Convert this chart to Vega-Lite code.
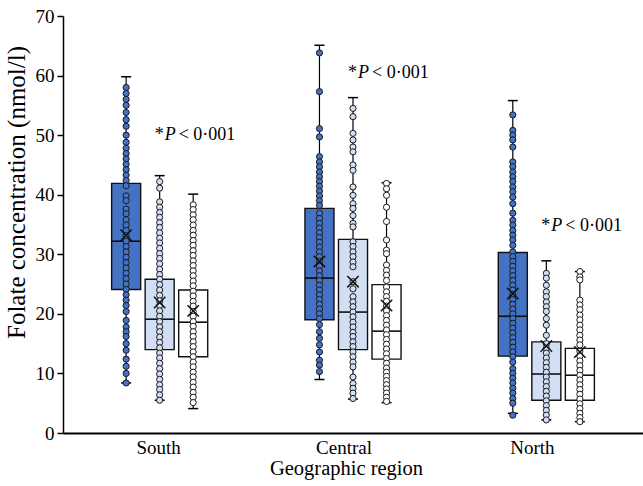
{
  "$schema": "https://vega.github.io/schema/vega-lite/v6.json",
  "width": 580,
  "height": 417,
  "autosize": {"type": "none"},
  "padding": {"left": 63, "top": 16, "right": 0, "bottom": 53},
  "config": {
    "view": {"stroke": null},
    "font": "Liberation Serif",
    "axis": {"domainColor": "#000", "tickColor": "#000", "labelColor": "#000", "titleColor": "#000", "labelFont": "Liberation Serif", "titleFont": "Liberation Serif", "labelFontSize": 19, "titleFontSize": 20.5, "titleFontWeight": "normal", "grid": false},
    "axisY": {"tickSize": 6, "labelPadding": 3, "domainWidth": 1.5, "tickWidth": 1.5, "titlePadding": 6, "titleFontSize": 25, "titleY": 176},
    "axisX": {"ticks": false, "tickSize": 0, "labelPadding": 5, "titlePadding": 1, "domainWidth": 2, "labelAngle": 0, "titleX": 283}
  },
  "datasets": {
    "stats": [
      {"r": "South", "g": "1", "lo": 8.4, "q1": 24.1, "med": 32.2, "q3": 41.9, "hi": 59.8, "mean": 33.2},
      {"r": "South", "g": "2", "lo": 5.5, "q1": 14.0, "med": 19.1, "q3": 25.8, "hi": 43.2, "mean": 21.9},
      {"r": "South", "g": "3", "lo": 4.1, "q1": 12.8, "med": 18.6, "q3": 24.0, "hi": 40.1, "mean": 20.5},
      {"r": "Central", "g": "1", "lo": 9.0, "q1": 19.0, "med": 26.0, "q3": 37.7, "hi": 65.1, "mean": 28.8},
      {"r": "Central", "g": "2", "lo": 5.7, "q1": 14.0, "med": 20.3, "q3": 32.5, "hi": 56.3, "mean": 25.4},
      {"r": "Central", "g": "3", "lo": 5.1, "q1": 12.4, "med": 17.1, "q3": 24.9, "hi": 42.0, "mean": 21.4},
      {"r": "North", "g": "1", "lo": 3.3, "q1": 12.9, "med": 19.6, "q3": 30.3, "hi": 55.8, "mean": 23.4},
      {"r": "North", "g": "2", "lo": 2.2, "q1": 5.5, "med": 9.9, "q3": 15.3, "hi": 28.9, "mean": 14.6},
      {"r": "North", "g": "3", "lo": 1.9, "q1": 5.5, "med": 9.7, "q3": 14.2, "hi": 27.1, "mean": 13.6}
    ],
    "ann": [
      {"r": "South", "y": 50.0},
      {"r": "Central", "y": 60.4},
      {"r": "North", "y": 34.7}
    ],
    "pts": [
      {"r":"South","g":"1","v":58.0},{"r":"South","g":"1","v":57.0},{"r":"South","g":"1","v":56.0},{"r":"South","g":"1","v":55.0},{"r":"South","g":"1","v":53.8},{"r":"South","g":"1","v":52.6},{"r":"South","g":"1","v":51.5},{"r":"South","g":"1","v":50.0},{"r":"South","g":"1","v":48.8},{"r":"South","g":"1","v":47.8},{"r":"South","g":"1","v":46.9},{"r":"South","g":"1","v":46.0},{"r":"South","g":"1","v":45.1},{"r":"South","g":"1","v":44.2},{"r":"South","g":"1","v":43.3},{"r":"South","g":"1","v":42.4},{"r":"South","g":"1","v":41.5},{"r":"South","g":"1","v":39.8},{"r":"South","g":"1","v":39.0},{"r":"South","g":"1","v":37.6},{"r":"South","g":"1","v":36.8},{"r":"South","g":"1","v":35.8},{"r":"South","g":"1","v":34.9},{"r":"South","g":"1","v":34.0},{"r":"South","g":"1","v":33.1},{"r":"South","g":"1","v":32.2},{"r":"South","g":"1","v":31.3},{"r":"South","g":"1","v":30.4},{"r":"South","g":"1","v":29.5},{"r":"South","g":"1","v":28.6},{"r":"South","g":"1","v":27.7},{"r":"South","g":"1","v":26.8},{"r":"South","g":"1","v":25.9},{"r":"South","g":"1","v":25.0},{"r":"South","g":"1","v":24.1},{"r":"South","g":"1","v":23.2},{"r":"South","g":"1","v":22.3},{"r":"South","g":"1","v":21.4},{"r":"South","g":"1","v":20.4},{"r":"South","g":"1","v":18.9},{"r":"South","g":"1","v":17.8},{"r":"South","g":"1","v":17.0},{"r":"South","g":"1","v":16.2},{"r":"South","g":"1","v":15.0},{"r":"South","g":"1","v":13.9},{"r":"South","g":"1","v":12.4},{"r":"South","g":"1","v":11.2},{"r":"South","g":"1","v":10.0},{"r":"South","g":"1","v":8.4},
      {"r":"South","g":"2","v":42.2},{"r":"South","g":"2","v":41.1},{"r":"South","g":"2","v":38.8},{"r":"South","g":"2","v":37.9},{"r":"South","g":"2","v":37.0},{"r":"South","g":"2","v":36.2},{"r":"South","g":"2","v":35.3},{"r":"South","g":"2","v":34.5},{"r":"South","g":"2","v":33.6},{"r":"South","g":"2","v":32.7},{"r":"South","g":"2","v":31.9},{"r":"South","g":"2","v":31.0},{"r":"South","g":"2","v":30.1},{"r":"South","g":"2","v":29.3},{"r":"South","g":"2","v":28.4},{"r":"South","g":"2","v":27.5},{"r":"South","g":"2","v":26.6},{"r":"South","g":"2","v":25.8},{"r":"South","g":"2","v":24.9},{"r":"South","g":"2","v":24.0},{"r":"South","g":"2","v":23.1},{"r":"South","g":"2","v":22.2},{"r":"South","g":"2","v":21.4},{"r":"South","g":"2","v":20.5},{"r":"South","g":"2","v":19.6},{"r":"South","g":"2","v":18.7},{"r":"South","g":"2","v":17.8},{"r":"South","g":"2","v":17.0},{"r":"South","g":"2","v":16.1},{"r":"South","g":"2","v":15.2},{"r":"South","g":"2","v":14.3},{"r":"South","g":"2","v":13.4},{"r":"South","g":"2","v":12.6},{"r":"South","g":"2","v":11.7},{"r":"South","g":"2","v":10.8},{"r":"South","g":"2","v":9.9},{"r":"South","g":"2","v":9.0},{"r":"South","g":"2","v":8.1},{"r":"South","g":"2","v":7.3},{"r":"South","g":"2","v":6.4},{"r":"South","g":"2","v":5.5},
      {"r":"South","g":"3","v":38.3},{"r":"South","g":"3","v":37.5},{"r":"South","g":"3","v":36.6},{"r":"South","g":"3","v":35.8},{"r":"South","g":"3","v":34.9},{"r":"South","g":"3","v":34.0},{"r":"South","g":"3","v":33.2},{"r":"South","g":"3","v":32.3},{"r":"South","g":"3","v":31.5},{"r":"South","g":"3","v":30.6},{"r":"South","g":"3","v":29.8},{"r":"South","g":"3","v":28.9},{"r":"South","g":"3","v":28.1},{"r":"South","g":"3","v":27.2},{"r":"South","g":"3","v":26.4},{"r":"South","g":"3","v":25.5},{"r":"South","g":"3","v":24.7},{"r":"South","g":"3","v":23.8},{"r":"South","g":"3","v":23.0},{"r":"South","g":"3","v":22.1},{"r":"South","g":"3","v":21.3},{"r":"South","g":"3","v":20.4},{"r":"South","g":"3","v":19.6},{"r":"South","g":"3","v":18.7},{"r":"South","g":"3","v":17.9},{"r":"South","g":"3","v":17.0},{"r":"South","g":"3","v":16.2},{"r":"South","g":"3","v":15.3},{"r":"South","g":"3","v":14.5},{"r":"South","g":"3","v":13.6},{"r":"South","g":"3","v":12.8},{"r":"South","g":"3","v":11.9},{"r":"South","g":"3","v":11.1},{"r":"South","g":"3","v":10.2},{"r":"South","g":"3","v":9.4},{"r":"South","g":"3","v":8.5},{"r":"South","g":"3","v":7.7},{"r":"South","g":"3","v":6.8},{"r":"South","g":"3","v":6.0},{"r":"South","g":"3","v":5.1},
      {"r":"Central","g":"1","v":63.8},{"r":"Central","g":"1","v":57.3},{"r":"Central","g":"1","v":51.1},{"r":"Central","g":"1","v":49.7},{"r":"Central","g":"1","v":46.4},{"r":"Central","g":"1","v":45.5},{"r":"Central","g":"1","v":44.7},{"r":"Central","g":"1","v":43.8},{"r":"Central","g":"1","v":43.0},{"r":"Central","g":"1","v":42.2},{"r":"Central","g":"1","v":41.4},{"r":"Central","g":"1","v":40.6},{"r":"Central","g":"1","v":39.8},{"r":"Central","g":"1","v":39.0},{"r":"Central","g":"1","v":38.2},{"r":"Central","g":"1","v":36.9},{"r":"Central","g":"1","v":36.0},{"r":"Central","g":"1","v":35.2},{"r":"Central","g":"1","v":34.4},{"r":"Central","g":"1","v":33.6},{"r":"Central","g":"1","v":32.8},{"r":"Central","g":"1","v":32.0},{"r":"Central","g":"1","v":31.2},{"r":"Central","g":"1","v":30.4},{"r":"Central","g":"1","v":29.6},{"r":"Central","g":"1","v":28.8},{"r":"Central","g":"1","v":28.0},{"r":"Central","g":"1","v":27.2},{"r":"Central","g":"1","v":26.4},{"r":"Central","g":"1","v":25.6},{"r":"Central","g":"1","v":24.8},{"r":"Central","g":"1","v":24.0},{"r":"Central","g":"1","v":23.2},{"r":"Central","g":"1","v":22.4},{"r":"Central","g":"1","v":21.6},{"r":"Central","g":"1","v":20.8},{"r":"Central","g":"1","v":20.0},{"r":"Central","g":"1","v":19.2},{"r":"Central","g":"1","v":18.2},{"r":"Central","g":"1","v":17.0},{"r":"Central","g":"1","v":15.9},{"r":"Central","g":"1","v":14.8},{"r":"Central","g":"1","v":13.6},{"r":"Central","g":"1","v":12.2},{"r":"Central","g":"1","v":11.4},{"r":"Central","g":"1","v":10.3},
      {"r":"Central","g":"2","v":54.5},{"r":"Central","g":"2","v":53.1},{"r":"Central","g":"2","v":50.3},{"r":"Central","g":"2","v":49.2},{"r":"Central","g":"2","v":48.0},{"r":"Central","g":"2","v":47.2},{"r":"Central","g":"2","v":45.0},{"r":"Central","g":"2","v":44.1},{"r":"Central","g":"2","v":41.3},{"r":"Central","g":"2","v":39.9},{"r":"Central","g":"2","v":38.5},{"r":"Central","g":"2","v":37.7},{"r":"Central","g":"2","v":36.5},{"r":"Central","g":"2","v":35.2},{"r":"Central","g":"2","v":34.6},{"r":"Central","g":"2","v":32.1},{"r":"Central","g":"2","v":31.3},{"r":"Central","g":"2","v":30.4},{"r":"Central","g":"2","v":29.6},{"r":"Central","g":"2","v":28.7},{"r":"Central","g":"2","v":27.9},{"r":"Central","g":"2","v":25.4},{"r":"Central","g":"2","v":24.2},{"r":"Central","g":"2","v":22.9},{"r":"Central","g":"2","v":22.0},{"r":"Central","g":"2","v":21.2},{"r":"Central","g":"2","v":20.3},{"r":"Central","g":"2","v":19.5},{"r":"Central","g":"2","v":18.6},{"r":"Central","g":"2","v":17.8},{"r":"Central","g":"2","v":16.9},{"r":"Central","g":"2","v":16.2},{"r":"Central","g":"2","v":15.3},{"r":"Central","g":"2","v":14.5},{"r":"Central","g":"2","v":13.6},{"r":"Central","g":"2","v":12.8},{"r":"Central","g":"2","v":11.9},{"r":"Central","g":"2","v":11.1},{"r":"Central","g":"2","v":9.4},{"r":"Central","g":"2","v":8.3},{"r":"Central","g":"2","v":7.5},{"r":"Central","g":"2","v":6.7},{"r":"Central","g":"2","v":5.8},
      {"r":"Central","g":"3","v":41.9},{"r":"Central","g":"3","v":41.0},{"r":"Central","g":"3","v":39.9},{"r":"Central","g":"3","v":37.9},{"r":"Central","g":"3","v":35.5},{"r":"Central","g":"3","v":32.4},{"r":"Central","g":"3","v":30.7},{"r":"Central","g":"3","v":30.1},{"r":"Central","g":"3","v":28.2},{"r":"Central","g":"3","v":27.3},{"r":"Central","g":"3","v":26.5},{"r":"Central","g":"3","v":25.6},{"r":"Central","g":"3","v":24.5},{"r":"Central","g":"3","v":23.7},{"r":"Central","g":"3","v":22.9},{"r":"Central","g":"3","v":22.1},{"r":"Central","g":"3","v":21.3},{"r":"Central","g":"3","v":20.5},{"r":"Central","g":"3","v":19.7},{"r":"Central","g":"3","v":18.9},{"r":"Central","g":"3","v":18.1},{"r":"Central","g":"3","v":17.3},{"r":"Central","g":"3","v":16.5},{"r":"Central","g":"3","v":15.7},{"r":"Central","g":"3","v":14.9},{"r":"Central","g":"3","v":14.1},{"r":"Central","g":"3","v":13.3},{"r":"Central","g":"3","v":12.5},{"r":"Central","g":"3","v":11.7},{"r":"Central","g":"3","v":10.9},{"r":"Central","g":"3","v":10.2},{"r":"Central","g":"3","v":9.5},{"r":"Central","g":"3","v":8.8},{"r":"Central","g":"3","v":8.1},{"r":"Central","g":"3","v":7.4},{"r":"Central","g":"3","v":6.7},{"r":"Central","g":"3","v":6.0},{"r":"Central","g":"3","v":5.3},
      {"r":"North","g":"1","v":53.4},{"r":"North","g":"1","v":50.8},{"r":"North","g":"1","v":50.0},{"r":"North","g":"1","v":49.2},{"r":"North","g":"1","v":48.0},{"r":"North","g":"1","v":45.5},{"r":"North","g":"1","v":44.7},{"r":"North","g":"1","v":43.8},{"r":"North","g":"1","v":43.0},{"r":"North","g":"1","v":42.2},{"r":"North","g":"1","v":41.3},{"r":"North","g":"1","v":40.5},{"r":"North","g":"1","v":39.6},{"r":"North","g":"1","v":38.5},{"r":"North","g":"1","v":36.9},{"r":"North","g":"1","v":35.7},{"r":"North","g":"1","v":34.9},{"r":"North","g":"1","v":34.0},{"r":"North","g":"1","v":33.2},{"r":"North","g":"1","v":32.4},{"r":"North","g":"1","v":31.5},{"r":"North","g":"1","v":30.4},{"r":"North","g":"1","v":29.6},{"r":"North","g":"1","v":28.8},{"r":"North","g":"1","v":28.0},{"r":"North","g":"1","v":27.2},{"r":"North","g":"1","v":26.4},{"r":"North","g":"1","v":25.6},{"r":"North","g":"1","v":24.8},{"r":"North","g":"1","v":24.0},{"r":"North","g":"1","v":23.2},{"r":"North","g":"1","v":22.4},{"r":"North","g":"1","v":21.6},{"r":"North","g":"1","v":20.8},{"r":"North","g":"1","v":20.0},{"r":"North","g":"1","v":19.2},{"r":"North","g":"1","v":18.4},{"r":"North","g":"1","v":17.6},{"r":"North","g":"1","v":16.8},{"r":"North","g":"1","v":16.0},{"r":"North","g":"1","v":15.2},{"r":"North","g":"1","v":14.4},{"r":"North","g":"1","v":13.6},{"r":"North","g":"1","v":12.8},{"r":"North","g":"1","v":11.9},{"r":"North","g":"1","v":10.8},{"r":"North","g":"1","v":10.0},{"r":"North","g":"1","v":9.2},{"r":"North","g":"1","v":8.4},{"r":"North","g":"1","v":7.5},{"r":"North","g":"1","v":6.7},{"r":"North","g":"1","v":5.8},{"r":"North","g":"1","v":5.0},{"r":"North","g":"1","v":3.0},
      {"r":"North","g":"2","v":26.8},{"r":"North","g":"2","v":26.0},{"r":"North","g":"2","v":24.8},{"r":"North","g":"2","v":23.7},{"r":"North","g":"2","v":22.9},{"r":"North","g":"2","v":22.0},{"r":"North","g":"2","v":21.2},{"r":"North","g":"2","v":20.4},{"r":"North","g":"2","v":19.2},{"r":"North","g":"2","v":18.1},{"r":"North","g":"2","v":16.4},{"r":"North","g":"2","v":15.0},{"r":"North","g":"2","v":14.2},{"r":"North","g":"2","v":13.4},{"r":"North","g":"2","v":12.6},{"r":"North","g":"2","v":11.8},{"r":"North","g":"2","v":11.0},{"r":"North","g":"2","v":10.2},{"r":"North","g":"2","v":9.4},{"r":"North","g":"2","v":8.6},{"r":"North","g":"2","v":7.8},{"r":"North","g":"2","v":7.0},{"r":"North","g":"2","v":6.2},{"r":"North","g":"2","v":5.4},{"r":"North","g":"2","v":4.6},{"r":"North","g":"2","v":3.8},{"r":"North","g":"2","v":3.0},{"r":"North","g":"2","v":2.2},
      {"r":"North","g":"3","v":27.1},{"r":"North","g":"3","v":26.2},{"r":"North","g":"3","v":25.7},{"r":"North","g":"3","v":22.3},{"r":"North","g":"3","v":21.5},{"r":"North","g":"3","v":20.7},{"r":"North","g":"3","v":19.8},{"r":"North","g":"3","v":19.0},{"r":"North","g":"3","v":18.1},{"r":"North","g":"3","v":17.3},{"r":"North","g":"3","v":16.4},{"r":"North","g":"3","v":15.6},{"r":"North","g":"3","v":14.8},{"r":"North","g":"3","v":13.7},{"r":"North","g":"3","v":12.9},{"r":"North","g":"3","v":12.1},{"r":"North","g":"3","v":11.3},{"r":"North","g":"3","v":10.5},{"r":"North","g":"3","v":9.7},{"r":"North","g":"3","v":8.9},{"r":"North","g":"3","v":8.1},{"r":"North","g":"3","v":7.3},{"r":"North","g":"3","v":6.5},{"r":"North","g":"3","v":5.7},{"r":"North","g":"3","v":4.9},{"r":"North","g":"3","v":4.1},{"r":"North","g":"3","v":3.3},{"r":"North","g":"3","v":2.6},{"r":"North","g":"3","v":1.9}
    ]
  },
  "encoding": {
    "x": {"field": "r", "type": "nominal", "sort": ["South", "Central", "North"], "scale": {"paddingInner": 0, "paddingOuter": 0}, "title": "Geographic region", "axis": {"labelOffset": {"expr": "datum.value === 'Central' ? -9 : (datum.value === 'North' ? -14 : -1)"}}}
  },
  "layer": [
    {
      "data": {"name": "stats"},
      "mark": {"type": "rule", "color": "#000", "strokeWidth": 1.2, "opacity": 1},
      "encoding": {
        "xOffset": {"field": "g", "type": "nominal", "scale": {"domain": ["a", "1", "2", "3", "b"], "paddingInner": 0.134, "paddingOuter": 0.45}},
        "y": {"field": "lo", "type": "quantitative", "scale": {"domain": [0, 70], "nice": false}, "axis": {"values": [0, 10, 20, 30, 40, 50, 60, 70]}, "title": "Folate concentration (nmol/l)"},
        "y2": {"field": "hi"}
      }
    },
    {
      "data": {"name": "stats"},
      "mark": {"type": "tick", "color": "#000", "size": 10, "thickness": 1.5, "opacity": 1},
      "encoding": {
        "xOffset": {"field": "g", "type": "nominal"},
        "y": {"field": "lo", "type": "quantitative", "title": "Folate concentration (nmol/l)"}
      }
    },
    {
      "data": {"name": "stats"},
      "mark": {"type": "tick", "color": "#000", "size": 10, "thickness": 1.5, "opacity": 1},
      "encoding": {
        "xOffset": {"field": "g", "type": "nominal"},
        "y": {"field": "hi", "type": "quantitative", "title": "Folate concentration (nmol/l)"}
      }
    },
    {
      "data": {"name": "stats"},
      "mark": {"type": "bar", "stroke": "#111", "strokeWidth": 1.4, "opacity": 1},
      "encoding": {
        "xOffset": {"field": "g", "type": "nominal"},
        "y": {"field": "q1", "type": "quantitative", "title": "Folate concentration (nmol/l)"},
        "y2": {"field": "q3"},
        "fill": {"field": "g", "type": "nominal", "scale": {"domain": ["1", "2", "3"], "range": ["#4472C4", "#D2DEF3", "#FFFFFF"]}, "legend": null}
      }
    },
    {
      "data": {"name": "stats"},
      "mark": {"type": "tick", "color": "#111", "size": 29, "thickness": 1.6, "opacity": 1},
      "encoding": {
        "xOffset": {"field": "g", "type": "nominal"},
        "y": {"field": "med", "type": "quantitative", "title": "Folate concentration (nmol/l)"}
      }
    },
    {
      "data": {"name": "pts"},
      "mark": {"type": "point", "filled": true, "shape": "circle", "size": 38, "stroke": "#1a1a1a", "strokeWidth": 1, "opacity": 1},
      "encoding": {
        "xOffset": {"field": "g", "type": "nominal"},
        "y": {"field": "v", "type": "quantitative", "title": "Folate concentration (nmol/l)"},
        "fill": {"field": "g", "type": "nominal", "legend": null}
      }
    },
    {
      "data": {"name": "stats"},
      "mark": {"type": "point", "filled": false, "shape": "M-1,-1L1,1M1,-1L-1,1", "size": 130, "stroke": "#111", "strokeWidth": 1.5, "opacity": 1},
      "encoding": {
        "xOffset": {"field": "g", "type": "nominal"},
        "y": {"field": "mean", "type": "quantitative", "title": "Folate concentration (nmol/l)"}
      }
    },
    {
      "data": {"name": "ann"},
      "mark": {"type": "text", "text": "*", "align": "left", "baseline": "middle", "dx": -5, "fontSize": 18, "font": "Liberation Serif", "color": "#000"},
      "encoding": {"y": {"field": "y", "type": "quantitative", "title": "Folate concentration (nmol/l)"}}
    },
    {
      "data": {"name": "ann"},
      "mark": {"type": "text", "text": "P", "align": "left", "baseline": "middle", "dx": 5, "fontSize": 18, "fontStyle": "italic", "font": "Liberation Serif", "color": "#000"},
      "encoding": {"y": {"field": "y", "type": "quantitative", "title": "Folate concentration (nmol/l)"}}
    },
    {
      "data": {"name": "ann"},
      "mark": {"type": "text", "text": "< 0·001", "align": "left", "baseline": "middle", "dx": 19, "fontSize": 18, "font": "Liberation Serif", "color": "#000"},
      "encoding": {"y": {"field": "y", "type": "quantitative", "title": "Folate concentration (nmol/l)"}}
    }
  ]
}
